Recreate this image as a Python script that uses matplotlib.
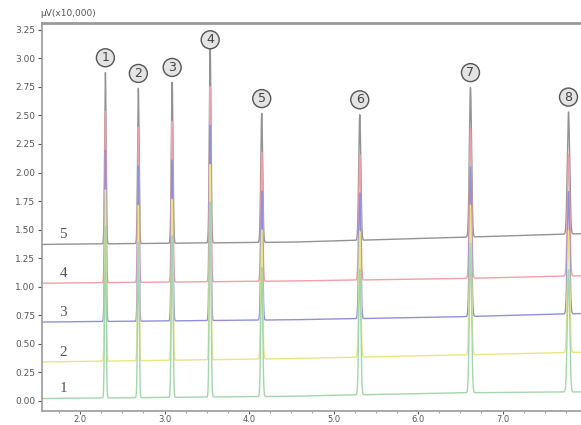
import numpy as np
import matplotlib
matplotlib.use('Agg')
import matplotlib.pyplot as plt
from matplotlib.ticker import MultipleLocator, FormatStrFormatter

# Peak table (retention time in min, height in uV x 10,000 above baseline)
peak_times = [2.30, 2.69, 3.09, 3.54, 4.15, 5.31, 6.62, 7.78]
peak_heights = [1.50, 1.36, 1.41, 1.71, 1.13, 1.10, 1.31, 1.07]
peak_sigmas = [0.009, 0.009, 0.010, 0.010, 0.011, 0.012, 0.013, 0.014]
peak_labels = ['1', '2', '3', '4', '5', '6', '7', '8']
label_offsets = [6, 6, 6, 1, 6, 6, 6, 6]

# Baseline of each injection, read at a few times
baseline_times = [1.55, 4.5, 6.4, 8.2]
baseline_1 = [0.02, 0.04, 0.07, 0.08]
baseline_2 = [0.34, 0.37, 0.40, 0.43]
baseline_3 = [0.69, 0.71, 0.735, 0.77]
baseline_4 = [1.03, 1.05, 1.07, 1.10]
baseline_5 = [1.37, 1.39, 1.43, 1.47]

trace_names = ['1', '2', '3', '4', '5']
trace_colors = ['#a3d6ac', '#e8e583', '#9090dc', '#f0a0aa', '#939393']


def chromatogram(t, base_pts):
    y = np.interp(t, baseline_times, base_pts)
    for rt, h, s in zip(peak_times, peak_heights, peak_sigmas):
        y = y + h * np.exp(-0.5 * ((t - rt) / s) ** 2)
    return y


fig = plt.figure(figsize=(5.81, 4.25), dpi=100)
ax = fig.add_axes([0.0723, 0.034, 0.96, 0.912])

t = np.linspace(1.55, 8.2, 12000)
baselines = [baseline_1, baseline_2, baseline_3, baseline_4, baseline_5]

# draw the top trace first so the lower ones sit on top of the peaks
for name, base, color in reversed(list(zip(trace_names, baselines, trace_colors))):
    ax.plot(t, chromatogram(t, base), color=color, lw=1.0)
    ax.text(1.80, base[0] + 0.03, name, ha='center', va='bottom',
            family='Liberation Serif', fontsize=11, color='#555555')

top = chromatogram(np.array(peak_times), baseline_5)
for rt, yt, lab, off in zip(peak_times, top, peak_labels, label_offsets):
    ax.annotate(lab, (rt, yt), xytext=(0, off), textcoords='offset points',
                ha='center', va='bottom', fontsize=9, color='#444444',
                bbox=dict(boxstyle='circle,pad=0.2', fc='#e4e4e4',
                          ec='#555555', lw=1.0))

ax.set_xlim(1.55, 8.15)
ax.set_ylim(-0.085, 3.31)
ax.yaxis.set_major_locator(MultipleLocator(0.25))
ax.yaxis.set_major_formatter(FormatStrFormatter('%.2f'))
ax.xaxis.set_major_locator(MultipleLocator(1.0))
ax.xaxis.set_minor_locator(MultipleLocator(0.25))
ax.xaxis.set_major_formatter(FormatStrFormatter('%.1f'))
ax.tick_params(axis='both', labelsize=6.5, colors='#555555', length=3,
               width=0.8, pad=2)
ax.tick_params(axis='x', labelsize=6, pad=1, length=2)
ax.tick_params(axis='x', which='minor', length=1.5, width=0.6, colors='#888888')

for side in ['left', 'bottom', 'top']:
    ax.spines[side].set_color('#9a9a9a')
    ax.spines[side].set_linewidth(1.2)
ax.spines['top'].set_linewidth(2.0)
ax.spines['right'].set_visible(False)

fig.text(0.069, 0.958, 'μV(x10,000)', fontsize=6.5, color='#555555',
         ha='left', va='bottom')

fig.savefig('out.png', dpi=100)
